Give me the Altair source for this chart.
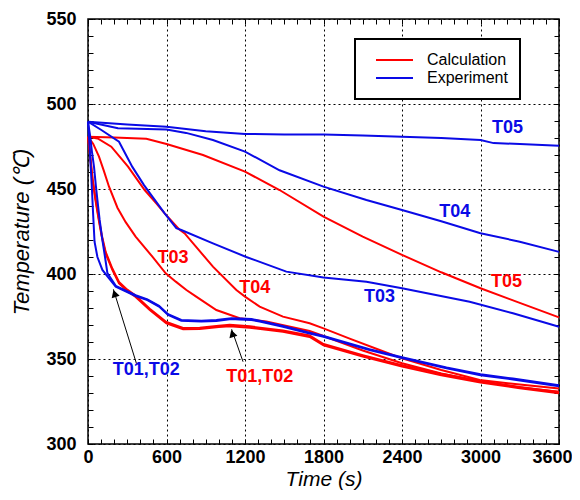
import altair as alt
import pandas as pd

# ---------------- data ----------------
# Calculation (red)
calc_T01_t = [0, 15, 35, 60, 84, 105, 135, 186, 237, 300, 364, 472, 599, 727, 854, 1000, 1083, 1236, 1490, 1694, 1800, 2100, 2400, 2700, 3000, 3300, 3600]
calc_T01_T = [480.8, 470, 455, 442, 431, 422, 412, 402.4, 394.5, 390, 386.5, 378.8, 371, 367.5, 367.6, 368.8, 369.3, 368.4, 366, 363, 358, 351.5, 345.5, 340.5, 336.2, 332.8, 329.8]
calc_T02_t = [0, 15, 35, 60, 84, 105, 135, 186, 237, 300, 364, 472, 599, 727, 854, 1000, 1083, 1236, 1490, 1694, 1800, 2100, 2400, 2700, 3000, 3300, 3600]
calc_T02_T = [480.8, 471, 456, 443, 432, 423, 413, 403.2, 395.3, 390.8, 387.3, 379.6, 371.8, 368.3, 368.4, 369.6, 370.1, 369.2, 366.8, 363.8, 358.8, 352.3, 346.3, 341.3, 337, 333.6, 330.6]
calc_T03_t = [0, 40, 84, 120, 160, 225, 288, 364, 492, 594, 671, 752, 827, 981, 1159, 1363, 1694, 1800, 2100, 2400, 2700, 3000, 3300, 3600]
calc_T03_T = [480.8, 476.5, 469, 461, 451.5, 439, 430.5, 422, 410.2, 400.4, 395.5, 390.6, 386.7, 378.8, 374, 372, 366.5, 363.5, 355, 347.5, 341.5, 336.8, 333.3, 330.8]
calc_T04_t = [0, 80, 178, 306, 433, 522, 586, 701, 739, 955, 1134, 1200, 1312, 1490, 1694, 1800, 2000, 2229, 2400, 2700, 2994, 3300, 3600]
calc_T04_T = [480.8, 479.5, 474.9, 463.1, 449.4, 441.5, 435.7, 426, 423.9, 404.3, 390.6, 386.7, 380.8, 374.9, 371, 368, 362, 355.3, 350.4, 343.5, 337.6, 335, 332.7]
calc_T05_t = [0, 200, 446, 600, 879, 1200, 1464, 1800, 2100, 2400, 2700, 3000, 3300, 3600]
calc_T05_T = [480.8, 480.3, 479.6, 476.5, 470, 460.2, 449.4, 433.7, 422, 411.2, 401, 391.6, 383, 374.5]

# Experiment (blue)
exp_T01_t = [0, 10, 20, 30, 40, 50, 72, 110, 150, 212, 364, 454, 543, 612, 713, 866, 981, 1096, 1159, 1249, 1312, 1490, 1694, 1800, 2151, 2400, 2740, 3000, 3248, 3600]
exp_T01_T = [489.6, 478, 464, 450, 434, 419, 410, 402.4, 398.4, 392.5, 387, 384.7, 380.8, 375.9, 372.5, 372, 372.4, 373.5, 373.3, 373, 372, 369, 365, 363, 355.3, 350.5, 344.5, 340.5, 338, 334]
exp_T02_t = [0, 15, 30, 46, 60, 72, 89, 110, 130, 148, 212, 364, 454, 543, 612, 713, 866, 981, 1096, 1159, 1249, 1312, 1490, 1694, 1800, 2151, 2400, 2740, 3000, 3248, 3600]
exp_T02_T = [489.6, 482, 472, 463, 452, 443.5, 431.8, 420, 410, 400.6, 393, 387.5, 385, 381.3, 376.4, 373, 372.5, 372.9, 374, 373.8, 373.5, 372.5, 369.5, 365.5, 363.5, 355.8, 351, 345, 341, 338.5, 334.5]
exp_T03_t = [0, 102, 237, 339, 428, 492, 586, 675, 713, 955, 1210, 1516, 1800, 2128, 2400, 2917, 3248, 3600]
exp_T03_T = [489.6, 484.7, 477.8, 463, 452.3, 445.5, 435.7, 427, 425.9, 418, 410, 401.4, 398, 395.5, 391.6, 383.7, 376.9, 369]
exp_T04_t = [0, 229, 600, 750, 955, 1200, 1464, 1800, 2128, 2400, 2700, 3000, 3300, 3600]
exp_T04_T = [489.6, 485.7, 485, 483, 478.8, 472, 461, 451.4, 443.5, 437.6, 431, 424, 419, 413]
exp_T05_t = [0, 300, 600, 900, 1200, 1500, 1800, 2100, 2400, 2700, 3000, 3100, 3300, 3600]
exp_T05_T = [489.6, 488, 486.6, 484, 482.4, 482, 482, 481.5, 480.8, 480, 478.8, 477, 476.5, 475.5]

# annotation labels
label_text = ["T05", "T04", "T03", "T01,T02", "T03", "T04", "T05", "T01,T02"]
label_kind = ["Experiment"] * 4 + ["Calculation"] * 4
label_t = [3206, 2803, 2229, 446, 650, 1274, 3198, 1312]
label_T = [485.7, 436.7, 386.7, 343.5, 409.2, 391.6, 395.5, 339.6]

# arrows (tail -> tip)
arrow_t = [370, 1185]
arrow_T = [347.4, 348.4]
arrow_t2 = [194, 1098]
arrow_T2 = [391, 367.5]
head_t = [203, 1103]
head_T = [388.5, 365]

# axes
x_minor = list(range(0, 3601, 100))
y_minor = list(range(300, 551, 10))

# ---------------- build tables ----------------
series = [
    ("c_T01", "Calculation", calc_T01_t, calc_T01_T),
    ("c_T02", "Calculation", calc_T02_t, calc_T02_T),
    ("c_T03", "Calculation", calc_T03_t, calc_T03_T),
    ("c_T04", "Calculation", calc_T04_t, calc_T04_T),
    ("c_T05", "Calculation", calc_T05_t, calc_T05_T),
    ("e_T01", "Experiment", exp_T01_t, exp_T01_T),
    ("e_T02", "Experiment", exp_T02_t, exp_T02_T),
    ("e_T03", "Experiment", exp_T03_t, exp_T03_T),
    ("e_T04", "Experiment", exp_T04_t, exp_T04_T),
    ("e_T05", "Experiment", exp_T05_t, exp_T05_T),
]
rows = []
for name, kind, ts, Ts in series:
    for i, (t, T) in enumerate(zip(ts, Ts)):
        rows.append({"series": name, "kind": kind, "t": t, "T": T, "i": i})
lines_df = pd.DataFrame(rows)
labels_df = pd.DataFrame({"text": label_text, "kind": label_kind, "t": label_t, "T": label_T})
arrows_df = pd.DataFrame({"t": arrow_t, "T": arrow_T, "t2": arrow_t2, "T2": arrow_T2})
heads_df = pd.DataFrame({"t": head_t, "T": head_T})

W, H = 471, 425
RED, BLUE = "#ff0000", "#0a0ae6"
xs = alt.Scale(domain=[0, 3600], nice=False, zero=False)
ys = alt.Scale(domain=[300, 550], nice=False, zero=False)
FONT = "Liberation Sans"
INWARD = {"expr": "-5"}

lines = alt.Chart(lines_df).mark_line(strokeWidth=2).encode(
    x=alt.X("t:Q", scale=xs, axis=alt.Axis(
        orient="bottom", values=x_minor, domain=False,
        ticks=True, tickSize=INWARD, tickColor="black", tickWidth=1,
        grid=True, gridColor="black", gridDash=[2, 3], gridWidth=1,
        gridOpacity={"condition": {"test": "datum.value % 600 === 0", "value": 1}, "value": 0},
        labelExpr="datum.value % 600 === 0 ? format(datum.value, 'd') : ''",
        labelOffset={"condition": {"test": "datum.value === 3600", "value": -7}, "value": 0},
        labelFont=FONT, labelFontSize=18, labelFontWeight="bold", labelColor="black",
        labelPadding=9, labelFlush=False, labelOverlap=False,
        title="Time (s)", titleFont=FONT, titleFontSize=21, titleFontStyle="italic",
        titleFontWeight="normal", titleColor="black",
        titleY=41, titleBaseline="alphabetic")),
    y=alt.Y("T:Q", scale=ys, axis=alt.Axis(
        orient="left", values=y_minor, domain=False,
        ticks=True, tickSize=INWARD, tickColor="black", tickWidth=1,
        grid=True, gridColor="black", gridDash=[2, 3], gridWidth=1,
        gridOpacity={"condition": {"test": "datum.value % 50 === 0", "value": 1}, "value": 0},
        labelExpr="datum.value % 50 === 0 ? format(datum.value, 'd') : ''",
        labelFont=FONT, labelFontSize=18, labelFontWeight="bold", labelColor="black",
        labelPadding=17, labelFlush=False, labelOverlap=False,
        title="Temperature (℃)", titleFont=FONT, titleFontSize=22, titleFontStyle="italic",
        titleFontWeight="normal", titleColor="black", titlePadding=12)),
    color=alt.Color("kind:N", scale=alt.Scale(domain=["Calculation", "Experiment"], range=[RED, BLUE]),
                    legend=alt.Legend(orient="none", legendX=267, legendY=20, title=None,
                                      symbolType="stroke", symbolSize=1369, symbolStrokeWidth=2,
                                      labelFont=FONT, labelFontSize=16, labelColor="black",
                                      padding=12, rowPadding=0, clipHeight=18,
                                      strokeColor="black", fillColor="white",
                                      symbolOffset=8, labelOffset=13,
                                      labelExpr="datum.label + '        '")),
    detail="series:N",
    order="i:Q",
)

texts = alt.Chart(labels_df).mark_text(font=FONT, fontSize=18, fontWeight="bold").encode(
    x=alt.X("t:Q", scale=xs, axis=alt.Axis(
        orient="top", values=x_minor, labels=False, grid=False, domain=False,
        ticks=True, tickSize=INWARD, tickColor="black", tickWidth=1, title=None)),
    y=alt.Y("T:Q", scale=ys, axis=alt.Axis(
        orient="right", values=y_minor, labels=False, grid=False, domain=False,
        ticks=True, tickSize=INWARD, tickColor="black", tickWidth=1, title=None)),
    text="text:N",
    color=alt.condition(alt.datum.kind == "Calculation", alt.value(RED), alt.value(BLUE)),
)

arrows = alt.Chart(arrows_df).mark_rule(color="black", strokeWidth=1).encode(
    x=alt.X("t:Q", scale=xs, axis=None),
    y=alt.Y("T:Q", scale=ys, axis=None),
    x2="t2:Q",
    y2="T2:Q",
)

heads = alt.Chart(heads_df).mark_point(shape="triangle-up", filled=True, color="black",
                                       size=70, angle=342, opacity=1).encode(
    x=alt.X("t:Q", scale=xs, axis=None),
    y=alt.Y("T:Q", scale=ys, axis=None),
)

chart = alt.layer(lines, texts, arrows, heads).resolve_axis(
    x="independent", y="independent"
).properties(
    width=W, height=H,
    autosize=alt.AutoSizeParams(type="none"),
    padding={"left": 80, "top": 11, "right": 13, "bottom": 46},
).configure_view(
    stroke="black", strokeWidth=1.5
).configure_legend(
    strokeWidth=2
)

chart.save("out.html", embed_options={"renderer": "svg", "actions": False})
